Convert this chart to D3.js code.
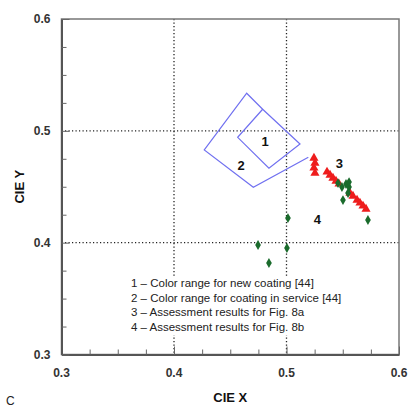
<!DOCTYPE html>
<html>
<head>
<meta charset="utf-8">
<script src="https://cdn.jsdelivr.net/npm/d3@7"></script>
<style>
  html, body { margin: 0; padding: 0; background: #fff; }
  svg { display: block; font-family: "Liberation Sans", Arial, sans-serif; }
</style>
</head>
<body>
<svg id="chart" width="408" height="410"></svg>
<script>
// Chromaticity region outlines (CIE x, y)
const region1 = [[0.4788, 0.5193], [0.4566, 0.4942], [0.4844, 0.4665], [0.5120, 0.4882], [0.4788, 0.5193]];
const region2 = [[0.4788, 0.5193], [0.4646, 0.5336], [0.4269, 0.4829], [0.4705, 0.4495], [0.5194, 0.4763]];

// Assessment results, Fig. 8a (x, y)
const fig8aX = [0.5244, 0.5253, 0.5244, 0.5253, 0.5360, 0.5387, 0.5413, 0.5440, 0.5467, 0.5564, 0.5591, 0.5627, 0.5653, 0.5680, 0.5707];
const fig8aY = [0.4757, 0.4712, 0.4668, 0.4623, 0.4632, 0.4605, 0.4578, 0.4551, 0.4525, 0.4444, 0.4417, 0.4381, 0.4355, 0.4328, 0.4301];

// Assessment results, Fig. 8b (x, y)
const fig8bX = [0.5458, 0.5493, 0.5529, 0.5556, 0.5556, 0.5547, 0.5502, 0.5724, 0.5013, 0.4747, 0.5004, 0.4844];
const fig8bY = [0.4533, 0.4498, 0.4525, 0.4498, 0.4542, 0.4444, 0.4381, 0.4203, 0.4220, 0.3979, 0.3952, 0.3818];

const xTicks = [0.3, 0.4, 0.5, 0.6];
const yTicks = [0.3, 0.4, 0.5, 0.6];
const gridValues = [0.4, 0.5];
const regionLabels = [
  { text: "1", x: 0.4809, y: 0.4912 },
  { text: "2", x: 0.4596, y: 0.4694 },
  { text: "3", x: 0.5469, y: 0.4710 },
  { text: "4", x: 0.5274, y: 0.4212 }
];
const legendLines = [
  "1 \u2013 Color range for new coating [44]",
  "2 \u2013 Color range for coating in service [44]",
  "3 \u2013 Assessment results for Fig. 8a",
  "4 \u2013 Assessment results for Fig. 8b"
];

const svg = d3.select("#chart");
const pl = 61.5, pr = 399, pt = 19, pb = 354.5;
const x = d3.scaleLinear().domain([0.3, 0.6]).range([pl, pr]);
const y = d3.scaleLinear().domain([0.3, 0.6]).range([pb, pt]);

// dotted grid
const grid = svg.append("g").attr("stroke", "#222").attr("stroke-width", 1.3)
  .attr("stroke-dasharray", "1.2,2.3");
grid.selectAll(".gx").data(gridValues).join("line").attr("class", "gx")
  .attr("x1", d => x(d)).attr("x2", d => x(d)).attr("y1", pt).attr("y2", pb);
grid.selectAll(".gy").data(gridValues).join("line").attr("class", "gy")
  .attr("y1", d => y(d)).attr("y2", d => y(d)).attr("x1", pl).attr("x2", pr);

// frame
svg.append("rect").attr("x", pl).attr("y", pt)
  .attr("width", pr - pl).attr("height", pb - pt)
  .attr("fill", "none").attr("stroke", "#777").attr("stroke-width", 1.5);

// inward ticks, longer at the labelled values
const minor = d3.range(0.3, 0.6001, 0.025);
const isMajor = d => Math.abs(d * 10 - Math.round(d * 10)) < 1e-6;
const xAxis = d3.axisBottom(x).tickValues(minor).tickSize(0).tickFormat("");
const yAxis = d3.axisLeft(y).tickValues(minor).tickSize(0).tickFormat("");
const gx = svg.append("g").attr("transform", `translate(0,${pb})`).call(xAxis);
const gy = svg.append("g").attr("transform", `translate(${pl},0)`).call(yAxis);
gx.selectAll(".tick line").attr("y2", d => isMajor(d) ? -8 : -5);
gy.selectAll(".tick line").attr("x2", d => isMajor(d) ? 8 : 5);
[gx, gy].forEach(g => {
  g.select(".domain").attr("stroke", "#555").attr("stroke-width", 2);
  g.selectAll(".tick line").attr("stroke", "#666").attr("stroke-width", 1);
});

// tick labels
svg.append("g").selectAll("text").data(xTicks).join("text")
  .attr("x", d => x(d)).attr("y", pb + 22)
  .attr("text-anchor", "middle").attr("font-size", 12).attr("font-weight", "bold")
  .attr("fill", "#333").text(d => d.toFixed(1));
svg.append("g").selectAll("text").data(yTicks).join("text")
  .attr("x", pl - 11).attr("y", d => y(d) + 4)
  .attr("text-anchor", "end").attr("font-size", 12).attr("font-weight", "bold")
  .attr("fill", "#333").text(d => d.toFixed(1));

// axis titles
svg.append("text").attr("x", (pl + pr) / 2).attr("y", 402)
  .attr("text-anchor", "middle").attr("font-size", 13).attr("font-weight", "bold")
  .attr("fill", "#111").text("CIE X");
svg.append("text").attr("transform", `translate(24,${(pt + pb) / 2}) rotate(-90)`)
  .attr("text-anchor", "middle").attr("font-size", 13).attr("font-weight", "bold")
  .attr("fill", "#111").text("CIE Y");
svg.append("text").attr("x", 6).attr("y", 405).attr("font-size", 12)
  .attr("fill", "#222").text("C");

// region outlines
const line = d3.line().x(d => x(d[0])).y(d => y(d[1]));
svg.append("path").datum(region2).attr("d", line)
  .attr("fill", "none").attr("stroke", "#7070f0").attr("stroke-width", 1.2);
svg.append("path").datum(region1).attr("d", line)
  .attr("fill", "none").attr("stroke", "#7070f0").attr("stroke-width", 1.2);

// points
const tri = d3.symbol().type(d3.symbolTriangle).size(36);
const dia = d3.symbol().type(d3.symbolDiamond).size(28);
svg.append("g").selectAll("path").data(fig8aX.map((v, i) => [v, fig8aY[i]])).join("path")
  .attr("d", tri).attr("transform", d => `translate(${x(d[0])},${y(d[1])})`)
  .attr("fill", "#ee1c1c");
svg.append("g").selectAll("path").data(fig8bX.map((v, i) => [v, fig8bY[i]])).join("path")
  .attr("d", dia).attr("transform", d => `translate(${x(d[0])},${y(d[1])})`)
  .attr("fill", "#1a6b2c");

// region numbers
svg.append("g").selectAll("text").data(regionLabels).join("text")
  .attr("x", d => x(d.x)).attr("y", d => y(d.y) + 5)
  .attr("text-anchor", "middle").attr("font-size", 13).attr("font-weight", "bold")
  .attr("fill", "#111").text(d => d.text);

// legend on a white panel
const legend = svg.append("g");
legend.append("rect").attr("x", 125).attr("y", 277).attr("width", 235).attr("height", 58)
  .attr("fill", "#fff");
legend.selectAll("text").data(legendLines).join("text")
  .attr("x", 131).attr("y", (d, i) => 287 + i * 14.7)
  .attr("font-size", 11.5).attr("fill", "#222").text(d => d);
</script>
</body>
</html>
